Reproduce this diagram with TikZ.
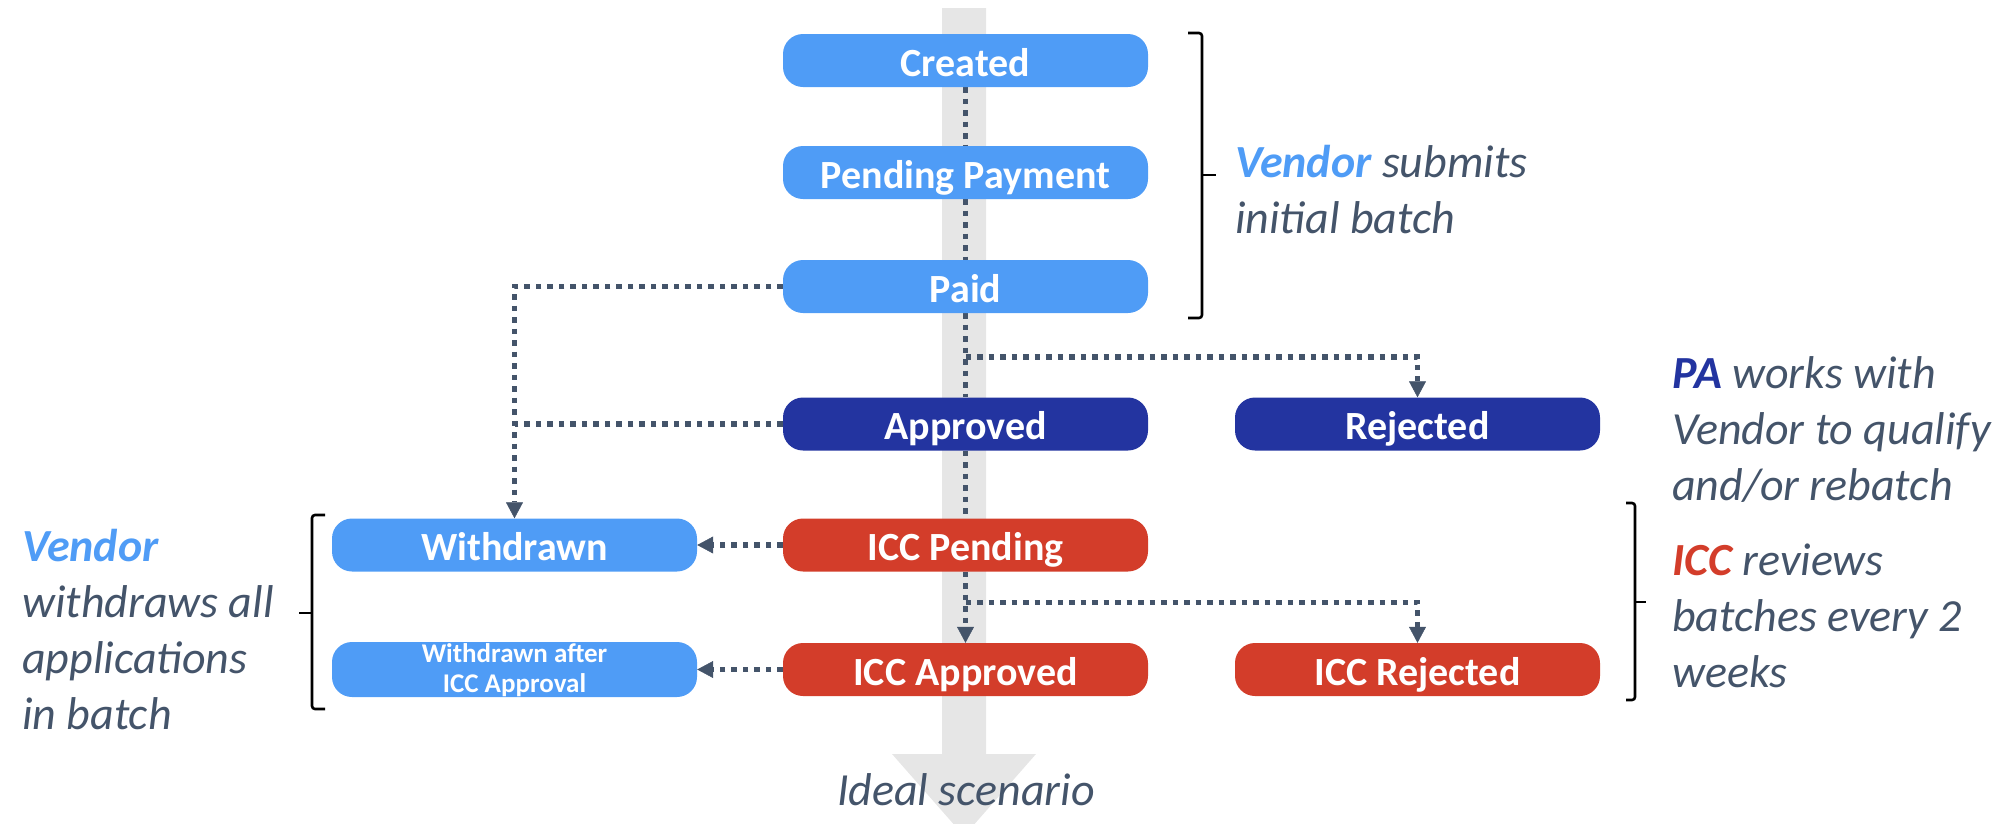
\documentclass[tikz,border=0pt]{standalone}
\usepackage{fontspec}
\setmainfont{Carlito}
\usetikzlibrary{arrows.meta,calc}
\pgfdeclarelayer{background}
\pgfsetlayers{background,main}

\definecolor{lightblue}{HTML}{4F9CF6}
\definecolor{navy}{HTML}{2334A0}
\definecolor{brick}{HTML}{D33D2A}
\definecolor{band}{HTML}{E6E6E6}
\definecolor{slate}{HTML}{44546A}

\begin{document}
\begin{tikzpicture}[x=1pt,y=-1pt,
  statebox/.style={rounded corners=20pt, minimum width=365pt, minimum height=53pt,
    inner sep=0pt, text=white},
  state/.style={statebox, text height=39pt, text depth=8pt,
    font=\fontsize{40}{48}\selectfont\bfseries},
  flow/.style={draw=slate, line width=5.5pt, dash pattern=on 5.5pt off 6pt},
  tip/.style={-{Triangle[width=17pt,length=16pt,line width=0.5pt]}},
  bracket/.style={draw=black, line width=2.6pt, rounded corners=3pt},
  note/.style={anchor=base west, text=slate, inner sep=0pt,
    font=\fontsize{46}{56}\selectfont\itshape}
]
\useasboundingbox (0,0) rectangle (2008,823);

% states
\node[state, fill=lightblue] (created)  at (965.5,60.5)  {Created};
\node[state, fill=lightblue] (pending)  at (965.5,172.5) {Pending Payment};
\node[state, fill=lightblue] (paid)     at (965.5,286.5) {Paid};
\node[state, fill=navy]      (approved) at (965.5,424)   {Approved};
\node[state, fill=navy]      (rejected) at (1417.5,424)  {Rejected};
\node[state, fill=lightblue] (withdrawn)   at (514.5,545) {Withdrawn};
\node[state, fill=brick]     (iccpending)  at (965.5,545) {ICC Pending};
\node[statebox, fill=lightblue, text height=20pt, text depth=35pt,
      font=\fontsize{27}{30}\selectfont\bfseries]
      (withdrawnafter) at (514.5,669.5)
      {\begin{tabular}[t]{@{}c@{}}Withdrawn after\\ICC Approval\end{tabular}};
\node[state, fill=brick]     (iccapproved) at (965.5,669.5) {ICC Approved};
\node[state, fill=brick]     (iccrejected) at (1417.5,669.5) {ICC Rejected};

% branching points on the main flow
\coordinate (split1) at ($(paid.south)!0.52!(approved.north)$);
\coordinate (split2) at ($(iccpending.south)!0.43!(iccapproved.north)$);

\begin{pgfonlayer}{background}
  \clip (0,0) rectangle (2008,823);
  % the ideal-scenario arrow behind the states
  \fill[band] (942,8) -- (986,8) -- (986,754) -- (1036,754) -- (964,836)
    -- (892,754) -- (942,754) -- cycle;
  % main flow
  \draw[flow] (created.south) -- (pending.north);
  \draw[flow] (pending.south) -- (paid.north);
  \draw[flow] (paid.south) -- (approved.north);
  \draw[flow] (approved.south) -- (iccpending.north);
  \draw[flow,tip] (iccpending.south) -- (iccapproved.north);
  % side branches
  \draw[flow,tip] (split1) -| (rejected.north);
  \draw[flow,tip] (split2) -| (iccrejected.north);
  \draw[flow,tip] (paid.west) -| (withdrawn.north);
  \draw[flow] (approved.west) -- (approved.west -| withdrawn.north);
  \draw[flow,tip] (iccpending.west) -- (withdrawn.east);
  \draw[flow,tip] (iccapproved.west) -- (withdrawnafter.east);
\end{pgfonlayer}

% brackets
\draw[bracket] (1188,33) -- (1202,33) -- (1202,318) -- (1188,318);
\draw[bracket] (1202,175) -- (1216,175);
\draw[bracket] (1626,503) -- (1635,503) -- (1635,700) -- (1626,700);
\draw[bracket] (1635,602) -- (1646,602);
\draw[bracket] (325,515) -- (312,515) -- (312,709) -- (325,709);
\draw[bracket] (312,613) -- (299,613);

% notes
\node[note] (vendornote) at (1235,177)
  {\begin{tabular}[t]{@{}l@{}}\textcolor{lightblue}{\bfseries Vendor} submits\\initial batch\end{tabular}};
\node[note] (panote) at (1672,388)
  {\begin{tabular}[t]{@{}l@{}}\textcolor{navy}{\bfseries PA} works with\\Vendor to qualify\\and/or rebatch\end{tabular}};
\node[note] (iccnote) at (1672,575)
  {\begin{tabular}[t]{@{}l@{}}\textcolor{brick}{\bfseries ICC} reviews\\batches every 2\\weeks\end{tabular}};
\node[note] (withdrawnote) at (22,561)
  {\begin{tabular}[t]{@{}l@{}}\textcolor{lightblue}{\bfseries Vendor}\\withdraws all\\applications\\in batch\end{tabular}};
\node[note, anchor=base] (ideal) at (966,805) {Ideal scenario};
\end{tikzpicture}
\end{document}
